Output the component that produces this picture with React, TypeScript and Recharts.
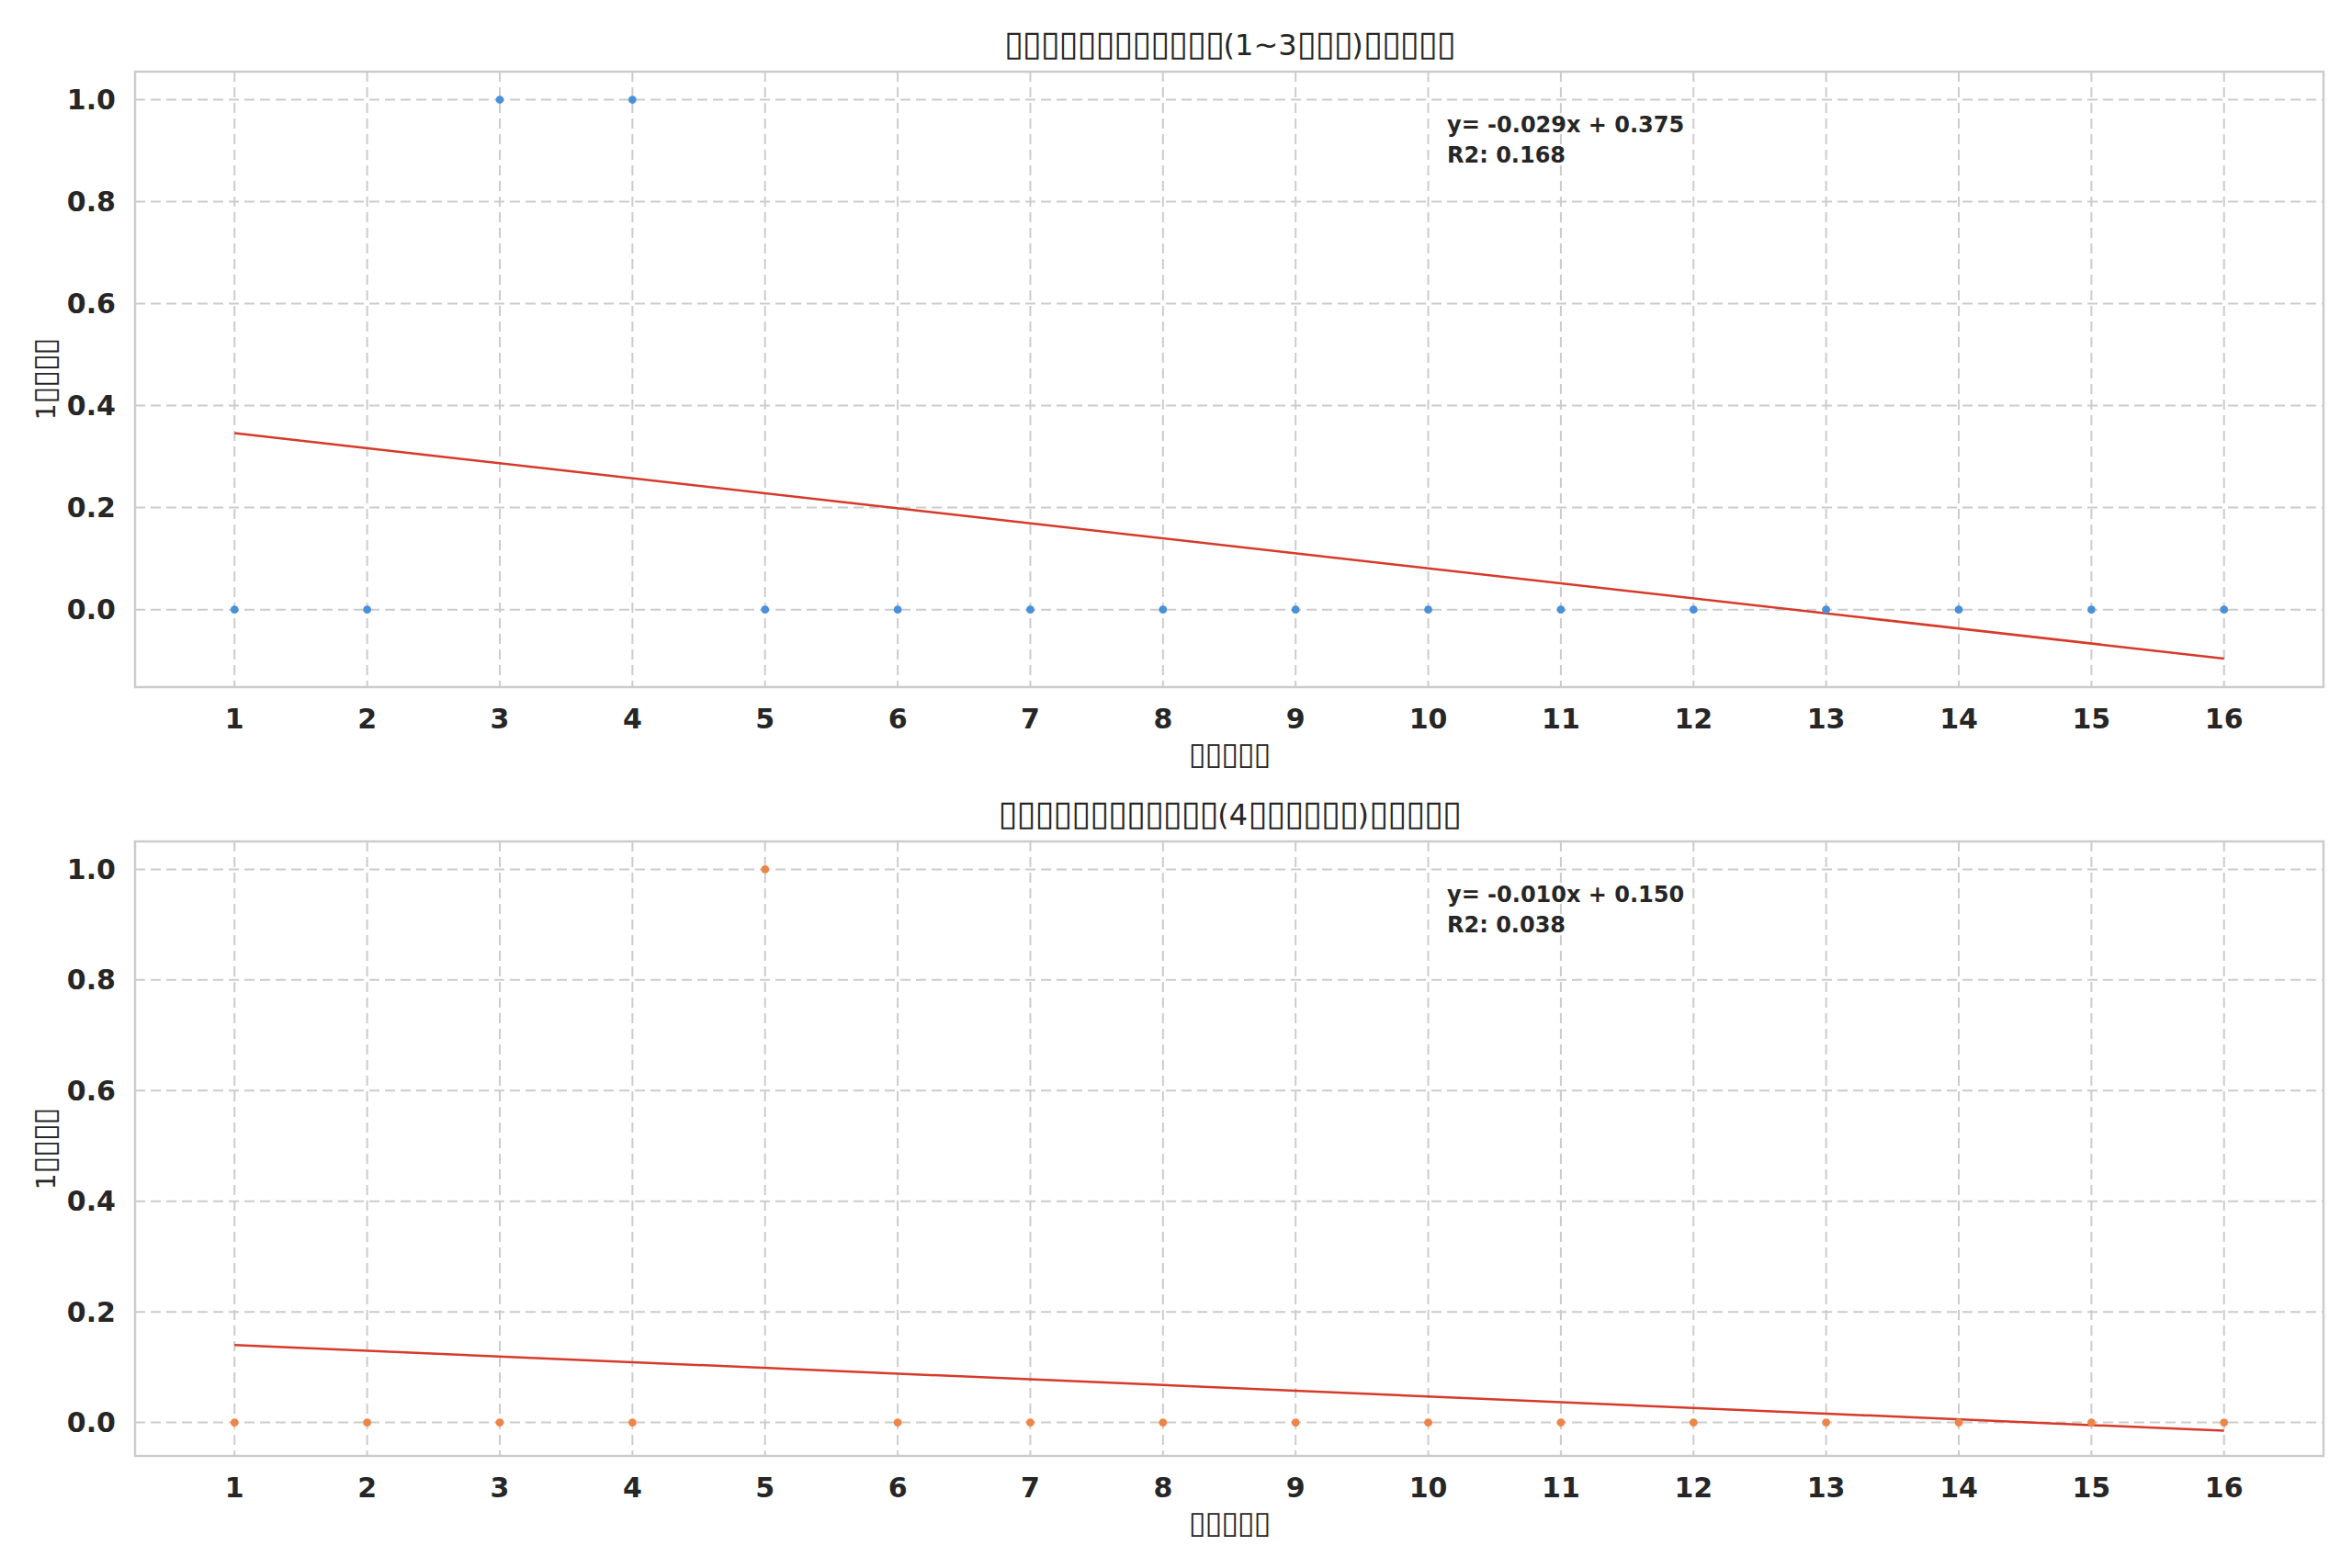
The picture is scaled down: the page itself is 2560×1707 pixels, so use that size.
import {
  CartesianGrid,
  ComposedChart,
  Line,
  ReferenceArea,
  Scatter,
  XAxis,
  YAxis,
  ZAxis,
} from "recharts";

// Period numbers on the x axis
const periods = [1, 2, 3, 4, 5, 6, 7, 8, 9, 10, 11, 12, 13, 14, 15, 16];

// 0/1 outcome per period, short (1~3) and long (4+) groups
const shortValues = [0, 0, 1, 1, 0, 0, 0, 0, 0, 0, 0, 0, 0, 0, 0, 0];
const longValues = [0, 0, 0, 0, 1, 0, 0, 0, 0, 0, 0, 0, 0, 0, 0, 0];

// fitted line, read at first and last period
const trendX = [1, 16];
const shortTrend = [0.346, -0.096];
const longTrend = [0.14, -0.015];

const yTicks = [0, 0.2, 0.4, 0.6, 0.8, 1.0];

const TOFU = "\u25AF";

const TEXT = "#262626";
const GRID = "#cccccc";
const FONT = "'DejaVu Sans', sans-serif";

// missing glyphs in the original render as boxes
function Boxes({ n, size, spacing }: { n: number; size: number; spacing: number }) {
  return (
    <span style={{ fontSize: size, letterSpacing: spacing }}>{TOFU.repeat(n)}</span>
  );
}

type Panel = {
  title: (size: number, s: number) => JSX.Element;
  values: number[];
  trend: number[];
  color: string;
  yDomain: [number, number];
  equation: string;
  r2: string;
};

const panels: Panel[] = [
  {
    title: (size, s) => (
      <>
        <Boxes n={12} size={size} spacing={s} />
        (1~3
        <Boxes n={3} size={size} spacing={s} />)
        <Boxes n={5} size={size} spacing={s} />
      </>
    ),
    values: shortValues,
    trend: shortTrend,
    color: "#4a90d9",
    yDomain: [-0.152, 1.055],
    equation: "y= -0.029x + 0.375",
    r2: "R2: 0.168",
  },
  {
    title: (size, s) => (
      <>
        <Boxes n={12} size={size} spacing={s} />
        (4
        <Boxes n={6} size={size} spacing={s} />)
        <Boxes n={5} size={size} spacing={s} />
      </>
    ),
    values: longValues,
    trend: longTrend,
    color: "#ee8548",
    yDomain: [-0.0605, 1.0505],
    equation: "y= -0.010x + 0.150",
    r2: "R2: 0.038",
  },
];

const X_DOMAIN: [number, number] = [0.25, 16.75];

function RegressionPanel({
  panel,
  height,
  top,
  axisHeight,
}: {
  panel: Panel;
  height: number;
  top: number;
  axisHeight: number;
}) {
  const points = periods.map((x, i) => ({ x, y: panel.values[i] }));
  const trendPoints = trendX.map((x, i) => ({ x, y: panel.trend[i] }));
  const plotBottom = height - axisHeight;
  const plotMid = (top + plotBottom) / 2;
  const plotLeft = 147;
  const plotRight = 2529;

  return (
    <div style={{ position: "relative", width: 2560, height }}>
      <div
        style={{
          position: "absolute",
          left: plotLeft,
          width: plotRight - plotLeft,
          top: top - 47,
          textAlign: "center",
          fontFamily: FONT,
          fontSize: 32,
          lineHeight: "32px",
          color: TEXT,
          whiteSpace: "nowrap",
        }}
      >
        {panel.title(38, -1)}
      </div>
      <ComposedChart
        width={2560}
        height={height}
        margin={{ top, right: 31, bottom: 0, left: 0 }}
      >
        <CartesianGrid stroke={GRID} strokeWidth={2} strokeDasharray="11 6" />
        <XAxis
          type="number"
          dataKey="x"
          domain={X_DOMAIN}
          ticks={periods}
          allowDataOverflow
          height={axisHeight}
          axisLine={false}
          tickLine={false}
          tickSize={6}
          tickMargin={18}
          tick={{ fill: TEXT, fontSize: 30, fontWeight: 700, fontFamily: FONT }}
        />
        <YAxis
          type="number"
          dataKey="y"
          domain={panel.yDomain}
          ticks={yTicks}
          allowDataOverflow
          width={147}
          axisLine={false}
          tickLine={false}
          tickSize={6}
          tickMargin={15}
          tickFormatter={(v) => Number(v).toFixed(1)}
          tick={{ fill: TEXT, fontSize: 30, fontWeight: 700, fontFamily: FONT }}
        />
        <ZAxis range={[60, 60]} />
        <ReferenceArea
          x1={X_DOMAIN[0]}
          x2={X_DOMAIN[1]}
          y1={panel.yDomain[0]}
          y2={panel.yDomain[1]}
          fill="none"
          stroke={GRID}
          strokeWidth={2.5}
        />
        <Scatter
          data={points}
          dataKey="y"
          fill={panel.color}
          shape="circle"
          isAnimationActive={false}
        />
        <Line
          data={trendPoints}
          dataKey="y"
          type="linear"
          stroke="#d63a2a"
          strokeWidth={2.5}
          dot={false}
          activeDot={false}
          isAnimationActive={false}
        />
      </ComposedChart>
      <div
        style={{
          position: "absolute",
          left: 1575,
          top: top + 42,
          fontFamily: FONT,
          fontSize: 24,
          fontWeight: 700,
          lineHeight: "33px",
          color: TEXT,
        }}
      >
        <div>{panel.equation}</div>
        <div>{panel.r2}</div>
      </div>
      <div
        style={{
          position: "absolute",
          left: plotLeft,
          width: plotRight - plotLeft,
          top: plotBottom + 58,
          textAlign: "center",
          fontFamily: FONT,
          fontSize: 28,
          lineHeight: "28px",
          color: TEXT,
        }}
      >
        <Boxes n={5} size={34} spacing={-1} />
      </div>
      <div
        style={{
          position: "absolute",
          left: 49,
          top: plotMid,
          transform: "translate(-50%, -50%) rotate(-90deg)",
          whiteSpace: "nowrap",
          fontFamily: FONT,
          fontSize: 28,
          lineHeight: "28px",
          color: TEXT,
        }}
      >
        1<Boxes n={4} size={34} spacing={-1} />
      </div>
    </div>
  );
}

export default function App() {
  return (
    <div
      style={{
        position: "absolute",
        left: 0,
        top: 0,
        width: 2560,
        height: 1707,
        background: "#ffffff",
      }}
    >
      <RegressionPanel panel={panels[0]} height={853} top={78} axisHeight={105} />
      <RegressionPanel panel={panels[1]} height={854} top={63} axisHeight={122} />
    </div>
  );
}
